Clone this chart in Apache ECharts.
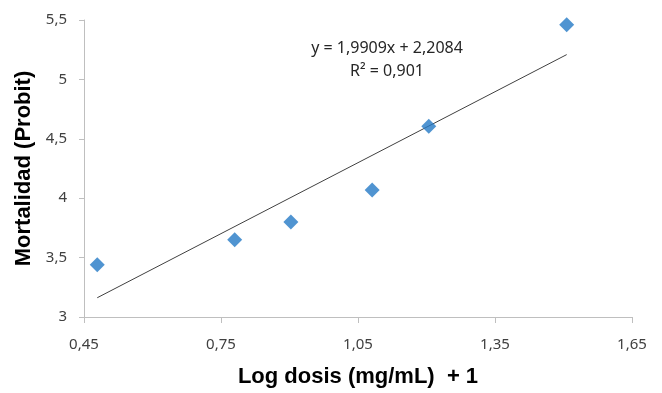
<!DOCTYPE html>
<html>
<head>
<meta charset="utf-8">
<script src="https://cdn.jsdelivr.net/npm/echarts@6/dist/echarts.min.js"></script>
<style>html,body{margin:0;padding:0;background:#fff}#c{width:662px;height:393px}</style>
</head>
<body>
<div id="c"></div>
<script>
// Data
const logDose = [0.479, 0.780, 0.903, 1.081, 1.205, 1.507];
const probit = [3.44, 3.65, 3.80, 4.07, 4.605, 5.46];
// Linear trendline (from the equation shown on the chart)
const slope = 1.9909;
const intercept = 2.2084;
const trendX = [0.479, 1.507];
const equationText = 'y = 1,9909x + 2,2084';
const r2Text = 'R² = 0,901';
const xTitle = 'Log dosis (mg/mL)  + 1';
const yTitle = 'Mortalidad (Probit)';

const points = logDose.map((x, i) => [x, probit[i]]);
const trend = trendX.map(x => [x, slope * x + intercept]);
const fmt = v => String(Math.round(v * 100) / 100).replace('.', ',');

const chart = echarts.init(document.getElementById('c'));
chart.setOption({
  animation: false,
  grid: { left: 84, right: 30, top: 20, bottom: 75 },
  xAxis: {
    type: 'value', min: 0.45, max: 1.65, interval: 0.3,
    name: xTitle, nameLocation: 'middle', nameGap: 49,
    nameTextStyle: { fontFamily: 'Liberation Sans', fontWeight: 'bold', fontSize: 22, color: '#000' },
    axisLine: { show: true, lineStyle: { color: '#BFBFBF', width: 1 } },
    axisTick: { show: true, length: 6, lineStyle: { color: '#BFBFBF' } },
    axisLabel: { formatter: fmt, fontFamily: 'Noto Sans', fontSize: 15, color: '#404040', margin: 20 },
    splitLine: { show: false }
  },
  yAxis: {
    type: 'value', min: 3, max: 5.5, interval: 0.5,
    name: yTitle, nameLocation: 'middle', nameGap: 49, nameRotate: 90,
    nameTextStyle: { fontFamily: 'Liberation Sans', fontWeight: 'bold', fontSize: 22, color: '#000' },
    axisLine: { show: true, lineStyle: { color: '#BFBFBF', width: 1 } },
    axisTick: { show: true, length: 5, lineStyle: { color: '#BFBFBF' } },
    axisLabel: { formatter: fmt, fontFamily: 'Noto Sans', fontSize: 15, color: '#404040', margin: 17 },
    splitLine: { show: false }
  },
  series: [
    {
      type: 'line', data: trend, symbol: 'none', silent: true,
      lineStyle: { color: '#404040', width: 1 }, z: 2
    },
    {
      type: 'scatter', data: points, symbol: 'diamond', symbolSize: 15,
      itemStyle: { color: '#2479C6' }, z: 3
    }
  ],
  graphic: [
    { type: 'text', x: 387, y: 48, style: { text: equationText, textAlign: 'center', textVerticalAlign: 'middle', fontFamily: 'Noto Sans', fontSize: 16, fill: '#262626' } },
    { type: 'text', x: 387, y: 71, style: { text: r2Text, textAlign: 'center', textVerticalAlign: 'middle', fontFamily: 'Noto Sans', fontSize: 16, fill: '#262626' } }
  ]
});
</script>
</body>
</html>
